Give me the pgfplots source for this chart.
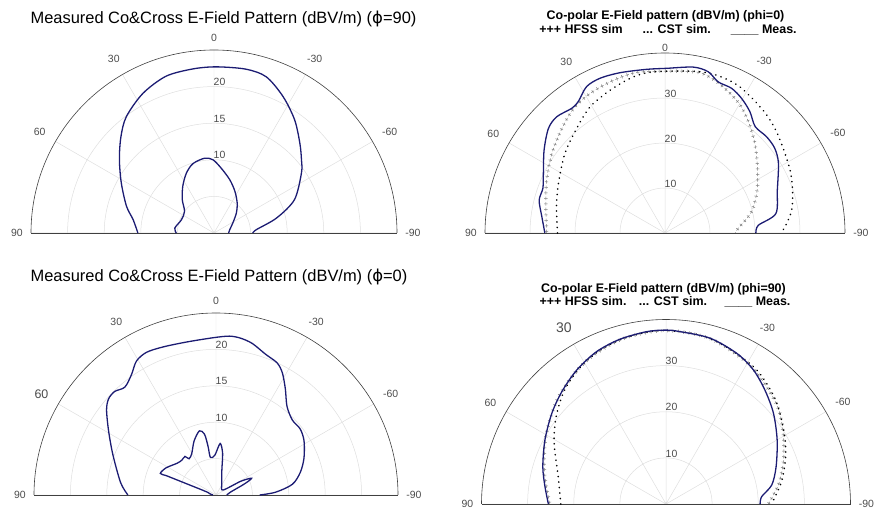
\documentclass[border=0pt]{standalone}
\usepackage{pgfplots}
\pgfplotsset{compat=1.18}
\usepackage{pgfplotstable}
\usepgfplotslibrary{polar}
\usepackage{fontspec}
\setmainfont{Liberation Sans}
\newfontfamily\dejavu{DejaVu Sans}
\definecolor{meas}{RGB}{28,28,115}
\definecolor{gridc}{RGB}{222,222,222}
\definecolor{hfssc}{RGB}{125,125,125}

% ---- Plot 1 (top left) phi=90, measured co & cross
\pgfplotstableread{
t r
90 10.4
80.6 11.2
73 12.5
61.6 14.4
52 16.4
44 18.3
37 19.9
27 21.4
17 22.4
7.3 22.6
-0.8 22.7
-11 22.8
-18.5 22.5
-26.8 20.9
-35.4 19.0
-43.6 17.0
-50 15.6
-55.5 14.5
-67.5 11.9
-76.5 8.8
-85.5 5.8
-90 5.3
}\pAco
\pgfplotstableread{
t r
90 5.15
82.8 5.4
67.8 4.8
53.6 5.0
43.5 6.3
33.6 7.7
24.8 9.0
16.9 9.9
7.1 10.3
0.8 10.0
-6.4 8.9
-16.4 7.6
-26.4 6.4
-37.5 5.2
-48.2 4.1
-62.2 2.9
-78 2.2
-90 2.0
}\pAcx
% ---- Plot 3 (bottom left) phi=0, measured co & cross
\pgfplotstableread{
t r
90 12.1
82.7 13.2
68.7 15.2
59.1 17.2
52.1 19.05
48.2 19.8
44.4 19.9
40.2 19.4
35.1 20.2
30.7 21.4
26 21.8
19.7 21.6
11.1 21.4
1.2 21.6
-4.8 21.9
-9 21.8
-13.5 21.4
-19.4 20.5
-24.8 20.0
-28.5 19.1
-33.2 17.4
-38.7 15.6
-45.5 14.7
-51.9 14.7
-58.4 14.2
-67.3 13.1
-74.9 12.0
-82 10.6
-87.3 8.2
-90 6.0
}\pCco
\pgfplotstableread{
t r
90 0.4
80 0.8
72 1.2
69.5 3.0
69 5.0
68.7 7.3
68.8 8.2
61.4 7.8
50.8 6.9
44.4 6.7
38.8 6.8
36.6 6.2
30.3 6.6
22.1 8.0
14.5 9.1
10.7 8.5
9.3 6.8
8.4 5.2
1.5 5.5
-4.6 7.1
-9 5.8
-13.6 3.4
-29.5 1.6
-55 1.2
-61 3.9
-64.8 5.4
-68.7 4.2
-79 2.0
-90 1.5
}\pCcx
% ---- Plot 2 (top right) phi=0 co-polar
\pgfplotstableread{
t r
90 26.7
82.5 27.6
75.4 28.9
69.9 28.9
63.9 30.1
55.5 32.6
48.1 34.8
43 35.3
36.8 34.6
33.4 35.0
28.2 36.9
22.8 37.3
15.7 37.0
6.4 36.6
-0.6 36.6
-9.7 37.4
-15 37.1
-19.4 35.6
-24.7 35.4
-29.7 34.4
-35 32.9
-40.3 31.0
-46.6 31.1
-52.4 30.8
-58.4 29.6
-69.2 26.7
-80.1 25.0
-85.3 20.8
-90 20.2
}\pBme
\pgfplotstableread{
t r
90 26.3
77.7 27.1
66 28.8
55 30.7
44.7 32.6
36.4 34.3
28.3 35.2
18.7 35.8
8.8 36.2
-10 36.4
-16.8 35.9
-23.3 34.6
-30.4 33.0
-37.5 30.7
-45.1 28.2
-54.3 25.3
-65 22.6
-76.2 19.8
-86.3 16.3
-90 15.6
}\pBhf
\pgfplotstableread{
t r
90 23.9
76.5 24.8
65.2 26.1
51.6 28.4
40.3 30.4
30.7 32.6
21 34.0
11.5 35.4
4.1 35.9
-10 36.5
-18.1 36.9
-27.1 36.5
-38.7 34.9
-46.5 33.7
-54.4 32.3
-63.4 31.1
-71.5 29.9
-79.8 28.6
-87.1 26.7
-90 25.6
}\pBcs
% ---- Plot 4 (bottom right) phi=90 co-polar
\pgfplotstableread{
t r
90 25.5
81.9 26.5
73.2 27.9
62.1 29.7
51.6 31.6
42.9 33.2
33.7 34.9
24.5 36.3
15.6 37.1
6.4 37.6
0 37.7
-4.6 37.5
-14.9 37.2
-25.1 36.1
-33.1 34.7
-41 32.7
-49.8 30.5
-60.1 27.8
-71.3 25.2
-79.8 23.3
-85.6 20.8
-90 20.4
}\pDme
\pgfplotstableread{
t r
90 25.2
75 27.3
60 30.0
45 32.9
30 35.4
15 37.0
0 37.6
-15 37.1
-30 35.3
-40 33.6
-50 31.9
-60 29.4
-70 27.1
-80 24.8
-90 22.2
}\pDhf
\pgfplotstableread{
t r
90 22.8
75.8 24.1
61.5 27.6
51.6 30.4
42 33.0
33 34.8
24 36.2
15 37.0
6 37.5
0 37.6
-10 37.4
-20 36.6
-33.3 35.2
-45.9 32.9
-58.5 30.0
-68.4 27.9
-79.1 25.5
-90 22.9
}\pDcs

\pgfplotsset{
  halfpolar/.style={
    scale only axis,
    xmin=0, xmax=180, ymin=0,
    xtick={0,30,...,180},
    xticklabels={-90,-60,-30,0,30,60,90},
    yticklabel style={text opacity=0},
    grid=major,
    major grid style={gridc, line width=0.5bp},
    axis line style={black!75, line width=0.6bp},
    major tick length=0pt,
    xticklabel style={font=\fontsize{10.5}{12}\selectfont, text=black!70, outer sep=5bp},
    clip=false,
  },
  measl/.style={meas, line width=1.3bp, smooth, no markers},
  cstl/.style={black, line width=1.8bp, smooth, no markers, line cap=round, dash pattern=on 0.01bp off 5.5bp},
  hfssa/.style={hfssc, line width=0.5bp, smooth, no markers, dash pattern=on 3.4bp off 2.1bp},
  hfssb/.style={hfssc, line width=3.4bp, smooth, no markers, dash pattern=on 0.5bp off 5bp, dash phase=4.05bp},
}
\tikzset{rlab/.style={anchor=south west, inner sep=0.5bp, xshift=-1bp, font=\fontsize{10.5}{12}\selectfont, text=black!70}}

\begin{document}
\begin{tikzpicture}
\useasboundingbox (0,0) rectangle (879bp,512bp);

% Plot 1
\begin{polaraxis}[halfpolar, at={(214bp,279bp)}, anchor=south, width=366bp, height=366bp, ymax=25, ytick={5,10,15,20}]
\addplot[measl] table[x expr=\thisrow{t}+90, y=r] {\pAco};
\addplot[measl] table[x expr=\thisrow{t}+90, y=r] {\pAcx};
\node[rlab] at (axis cs:90,10) {10};
\node[rlab] at (axis cs:90,15) {15};
\node[rlab] at (axis cs:90,20) {20};
\end{polaraxis}

% Plot 2
\begin{polaraxis}[halfpolar, at={(665bp,279bp)}, anchor=south, width=360bp, height=360bp, ymax=40, ytick={10,20,30},
  xticklabels={-90,-60,-30,,30,60,90}]
\addplot[hfssa] table[x expr=\thisrow{t}+90, y=r] {\pBhf};
\addplot[hfssb] table[x expr=\thisrow{t}+90, y=r] {\pBhf};
\addplot[cstl] table[x expr=\thisrow{t}+90, y=r] {\pBcs};
\addplot[measl] table[x expr=\thisrow{t}+90, y=r] {\pBme};
\node[rlab] at (axis cs:90,10) {10};
\node[rlab] at (axis cs:90,20) {20};
\node[rlab] at (axis cs:90,30) {30};
\node[anchor=south, inner sep=1bp, font=\fontsize{10.5}{12}\selectfont, text=black!70] at (axis cs:90,40) {0};
\end{polaraxis}

% Plot 3
\begin{polaraxis}[halfpolar, at={(216bp,17bp)}, anchor=south, width=364bp, height=364bp, ymax=25, ytick={5,10,15,20},
  xticklabels={-90,-60,-30,0,30,{\fontsize{12.5}{14}\selectfont 60},90}]
\addplot[measl] table[x expr=\thisrow{t}+90, y=r] {\pCco};
\addplot[measl] table[x expr=\thisrow{t}+90, y=r] {\pCcx};
\node[rlab] at (axis cs:90,10) {10};
\node[rlab] at (axis cs:90,15) {15};
\node[rlab] at (axis cs:90,20) {20};
\end{polaraxis}

% Plot 4
\begin{polaraxis}[halfpolar, at={(666bp,8bp)}, anchor=south, width=369bp, height=369bp, ymax=40, ytick={10,20,30},
  xticklabels={-90,-60,-30,,{\fontsize{14}{16}\selectfont 30},60,90}]
\addplot[hfssa] table[x expr=\thisrow{t}+90, y=r] {\pDhf};
\addplot[hfssb] table[x expr=\thisrow{t}+90, y=r] {\pDhf};
\addplot[cstl] table[x expr=\thisrow{t}+90, y=r] {\pDcs};
\addplot[measl] table[x expr=\thisrow{t}+90, y=r] {\pDme};
\node[rlab] at (axis cs:90,10) {10};
\node[rlab] at (axis cs:90,20) {20};
\node[rlab] at (axis cs:90,30) {30};
\end{polaraxis}

% Titles
\node[anchor=base, font=\fontsize{16.5}{18}\selectfont] at (223.5bp,488bp) {Measured Co\&Cross E-Field Pattern (dBV/m) ({\dejavu ϕ}=90)};
\node[anchor=base, font=\fontsize{16.5}{18}\selectfont] at (219bp,230bp) {Measured Co\&Cross E-Field Pattern (dBV/m) ({\dejavu ϕ}=0)};
\node[anchor=base, font=\bfseries\fontsize{12.5}{14}\selectfont] at (665.5bp,492bp) {Co-polar E-Field pattern (dBV/m) (phi=0)};
\node[anchor=base, font=\bfseries\fontsize{12.5}{14}\selectfont] at (668bp,478.5bp) {+++ HFSS sim\hspace{1.6em}... CST sim.\hspace{1.6em}\_\_\_\_ Meas.};
\node[anchor=base, font=\bfseries\fontsize{12.5}{14}\selectfont] at (663.5bp,219.5bp) {Co-polar E-Field pattern (dBV/m) (phi=90)};
\node[anchor=base, font=\bfseries\fontsize{12.5}{14}\selectfont] at (665bp,206bp) {+++ HFSS sim.\hspace{1em}... CST sim.\hspace{1.4em}\_\_\_\_ Meas.};
\end{tikzpicture}
\end{document}
